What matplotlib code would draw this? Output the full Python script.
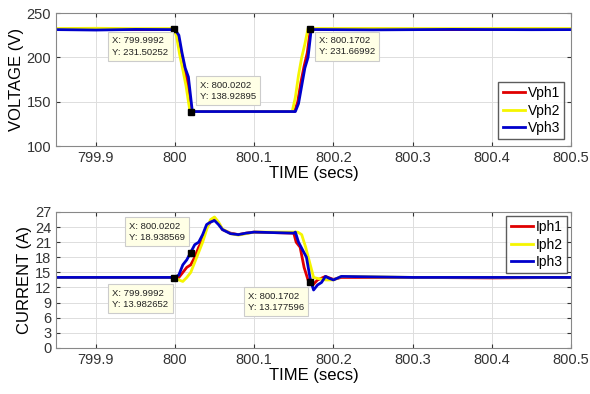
import matplotlib.pyplot as plt
import numpy as np

plt.rcParams['font.family'] = ['Liberation Sans', 'DejaVu Sans']
plt.rcParams['font.size'] = 10.5

# ---- voltage traces (time in s, volts) ----
tv1 = [799.85, 799.9, 799.95, 800.0, 800.004, 800.008, 800.012, 800.016, 800.021,
       800.10, 800.151, 800.155, 800.159, 800.163, 800.167, 800.171, 800.25, 800.35, 800.45, 800.5]
v1 = [231.5, 232.0, 231.3, 231.5, 222, 200, 185, 170, 139,
      139, 139, 150, 172, 190, 205, 231.6, 231.8, 231.3, 231.7, 231.5]
tv2 = [799.85, 799.9, 799.95, 799.998, 800.002, 800.006, 800.010, 800.014, 800.019,
       800.10, 800.148, 800.152, 800.156, 800.160, 800.164, 800.168, 800.25, 800.35, 800.45, 800.5]
v2 = [232.5, 232.8, 232.4, 232.5, 224, 203, 186, 168, 139,
      139, 139, 155, 180, 200, 215, 232.5, 232.6, 232.4, 232.6, 232.5]
tv3 = [799.85, 799.9, 799.95, 800.0, 800.005, 800.009, 800.013, 800.017, 800.022,
       800.10, 800.152, 800.156, 800.160, 800.164, 800.168, 800.172, 800.25, 800.35, 800.45, 800.5]
v3 = [231.3, 230.8, 231.5, 231.3, 225, 205, 188, 178, 139,
      139, 139, 148, 168, 188, 200, 231.4, 231.0, 231.5, 231.2, 231.3]

# ---- current traces (time in s, amps) ----
ti1 = [799.85, 800.0, 800.005, 800.01, 800.015, 800.02, 800.025, 800.03, 800.035, 800.04,
       800.045, 800.05, 800.055, 800.06, 800.07, 800.08, 800.09, 800.10, 800.15, 800.153,
       800.158, 800.163, 800.168, 800.174, 800.18, 800.19, 800.20, 800.21, 800.3, 800.4, 800.5]
i1 = [14.0, 14.0, 14.0, 15.0, 16.0, 16.5, 18.0, 20.0, 21.5, 24.0,
      25.0, 25.6, 24.8, 23.5, 22.8, 22.5, 22.8, 23.0, 22.8, 21.0,
      20.0, 16.0, 13.5, 12.5, 13.5, 14.2, 13.6, 14.0, 14.0, 13.9, 14.0]
ti2 = [799.85, 800.0, 800.005, 800.01, 800.015, 800.02, 800.025, 800.03, 800.035, 800.04,
       800.045, 800.05, 800.055, 800.06, 800.07, 800.08, 800.09, 800.10, 800.155, 800.16,
       800.165, 800.17, 800.175, 800.18, 800.19, 800.20, 800.21, 800.3, 800.4, 800.5]
i2 = [14.0, 14.0, 13.5, 13.2, 14.0, 15.0, 17.0, 19.0, 21.0, 23.5,
      25.5, 26.0, 25.0, 23.6, 22.7, 22.4, 22.7, 23.0, 23.0, 22.5,
      20.0, 17.0, 14.0, 13.8, 13.5, 13.5, 14.2, 14.0, 14.0, 14.0]
ti3 = [799.85, 800.0, 800.005, 800.01, 800.015, 800.02, 800.025, 800.03, 800.035, 800.04,
       800.045, 800.05, 800.055, 800.06, 800.07, 800.08, 800.09, 800.10, 800.15, 800.152,
       800.156, 800.161, 800.166, 800.171, 800.175, 800.18, 800.185, 800.19, 800.195, 800.20,
       800.21, 800.3, 800.4, 800.5]
i3 = [14.0, 14.0, 14.5, 16.5, 17.5, 19.0, 20.5, 21.0, 22.5, 24.5,
      25.0, 25.3, 24.5, 23.5, 22.7, 22.5, 22.8, 23.0, 22.8, 23.0,
      21.0, 19.5, 18.0, 13.5, 11.5, 12.5, 13.0, 14.2, 13.8, 13.5,
      14.2, 14.0, 14.0, 14.0]

# data tips
tips_v = [(799.9992, 231.50252), (800.0202, 138.92895), (800.1702, 231.66992)]
tips_i = [(799.9992, 13.982652), (800.0202, 18.938569), (800.1702, 13.177596)]

colors = ['#e00000', '#f5f500', '#0000cc']

fig = plt.figure(figsize=(5.9, 3.94), dpi=100)
ax1 = fig.add_axes([0.095, 0.629, 0.873, 0.338])
ax2 = fig.add_axes([0.095, 0.117, 0.873, 0.345])


def style(ax):
    ax.grid(True, color='#dddddd', linewidth=0.7)
    ax.set_axisbelow(True)
    ax.tick_params(direction='in', top=True, right=True, length=3, colors='#333333')
    for s in ax.spines.values():
        s.set_color('#888888')
    ax.set_xlim(799.85, 800.5)
    ax.set_xticks([799.9, 800, 800.1, 800.2, 800.3, 800.4, 800.5])
    ax.set_xticklabels(['799.9', '800', '800.1', '800.2', '800.3', '800.4', '800.5'])
    ax.set_xlabel('TIME (secs)', fontsize=12, labelpad=1)


def tip(ax, pt, dx, dy, va):
    ax.plot(pt[0], pt[1], 's', color='black', markersize=5, zorder=5)
    ax.annotate('X: %s\nY: %s' % (repr(pt[0]), repr(pt[1])), xy=pt, xytext=(dx, dy),
                textcoords='offset pixels', ha='left', va=va, fontsize=6.8,
                linespacing=1.3, color='#222222',
                bbox=dict(boxstyle='square,pad=0.45', fc='#ffffe6', ec='#cccccc', lw=0.8),
                zorder=6)


# voltage panel
for t, v, c, n in zip([tv1, tv2, tv3], [v1, v2, v3], colors, ['Vph1', 'Vph2', 'Vph3']):
    ax1.plot(t, v, color=c, linewidth=2, label=n)
style(ax1)
ax1.set_ylim(100, 250)
ax1.set_yticks([100, 150, 200, 250])
ax1.set_ylabel('VOLTAGE (V)', fontsize=12, labelpad=2)
ax1.legend(loc='lower right', fancybox=False, edgecolor='#333333', fontsize=10,
           handlelength=1.6, handletextpad=0.2, borderpad=0.3, labelspacing=0.25,
           borderaxespad=0.5)
tip(ax1, tips_v[0], -62, -7, 'top')
tip(ax1, tips_v[1], 9, 31, 'top')
tip(ax1, tips_v[2], 9, -7, 'top')

# current panel
for t, v, c, n in zip([ti1, ti2, ti3], [i1, i2, i3], colors, ['Iph1', 'Iph2', 'Iph3']):
    ax2.plot(t, v, color=c, linewidth=2, label=n)
style(ax2)
ax2.set_ylim(0, 27)
ax2.set_yticks(np.arange(0, 28, 3))
ax2.set_ylabel('CURRENT (A)', fontsize=12, labelpad=2)
ax2.legend(loc='upper right', fancybox=False, edgecolor='#333333', fontsize=10,
           handlelength=1.6, handletextpad=0.2, borderpad=0.3, labelspacing=0.25,
           borderaxespad=0.3)
tip(ax2, tips_i[0], -62, -11, 'top')
tip(ax2, tips_i[1], -62, 31, 'top')
tip(ax2, tips_i[2], -62, -10, 'top')

fig.savefig('out.png', dpi=100)
